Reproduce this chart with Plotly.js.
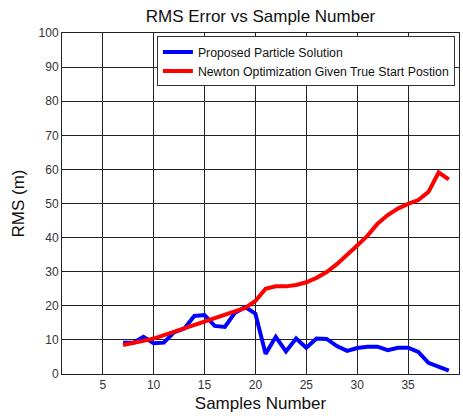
<!DOCTYPE html>
<html>
<head>
<meta charset="utf-8">
<script src="https://cdn.plot.ly/plotly-3.0.1.min.js"></script>
<style>
  html, body { margin: 0; padding: 0; background: #fff; }
  #chart { width: 463px; height: 416px; }
</style>
</head>
<body>
<div id="chart"></div>
<script>
// Sample numbers shared by both series
const samples = [7, 8, 9, 10, 11, 12, 13, 14, 15, 16, 17, 18, 19, 20, 21, 22, 23,
                 24, 25, 26, 27, 28, 29, 30, 31, 32, 33, 34, 35, 36, 37, 38, 39];

// RMS error (m) of the proposed particle solution
const particleRms = [9.2, 9.2, 10.9, 9.0, 9.2, 12.2, 13.3, 17.0, 17.3, 14.1, 13.8, 18.0, 19.6,
                     17.7, 5.9, 10.9, 6.6, 10.4, 7.7, 10.4, 10.3, 8.2, 6.8, 7.6, 8.0, 8.0,
                     7.0, 7.7, 7.7, 6.5, 3.3, 2.0, 1.0];

// RMS error (m) of Newton optimization started from the true position
const newtonRms = [8.5, 9.0, 9.7, 10.4, 11.4, 12.4, 13.2, 14.3, 15.3, 16.2, 17.2, 18.3, 19.4,
                   21.4, 25.0, 25.7, 25.7, 26.1, 26.9, 28.2, 29.9, 32.2, 34.8, 37.7, 40.5,
                   44.1, 46.6, 48.5, 49.9, 51.0, 53.4, 59.1, 57.1];

const seriesNames = ['Proposed Particle Solution', 'Newton Optimization Given True Start Postion'];
const xTicks = [5, 10, 15, 20, 25, 30, 35, 40];
const yTicks = [0, 10, 20, 30, 40, 50, 60, 70, 80, 90, 100];

const font = 'Liberation Sans, Arial, sans-serif';

const traces = [
  {
    x: samples, y: particleRms, name: seriesNames[0],
    type: 'scatter', mode: 'lines',
    line: { color: '#0000ff', width: 4 }
  },
  {
    x: samples, y: newtonRms, name: seriesNames[1],
    type: 'scatter', mode: 'lines',
    line: { color: '#ff0000', width: 4 }
  }
];

const axisCommon = {
  showgrid: true, gridcolor: '#222', gridwidth: 1,
  showline: true, linecolor: '#222', linewidth: 1, mirror: true,
  zeroline: false,
  ticks: 'inside', ticklen: 4, tickcolor: '#222',
  tickfont: { family: font, size: 12, color: '#333' }
};

const layout = {
  width: 463, height: 416,
  margin: { l: 62, r: 4, t: 33, b: 42 },
  paper_bgcolor: '#fff', plot_bgcolor: '#fff',
  showlegend: true,
  title: {
    text: 'RMS Error vs Sample Number',
    font: { family: font, size: 17, color: '#111' },
    x: 0.5, xref: 'paper', y: 0.962, yref: 'container', yanchor: 'middle'
  },
  xaxis: Object.assign({}, axisCommon, {
    range: [1, 40], tickvals: xTicks,
    title: { text: 'Samples Number', font: { family: font, size: 17, color: '#111' }, standoff: 5 }
  }),
  yaxis: Object.assign({}, axisCommon, {
    range: [0, 100], tickvals: yTicks,
    title: { text: 'RMS (m)', font: { family: font, size: 17, color: '#111' }, standoff: 9 }
  }),
  legend: {
    x: 0.239, y: 0.99, xanchor: 'left', yanchor: 'top',
    bgcolor: '#fff', bordercolor: '#333', borderwidth: 1,
    font: { family: font, size: 12.3, color: '#111' },
    tracegroupgap: 0, itemwidth: 30
  }
};

Plotly.newPlot('chart', traces, layout, { displayModeBar: false, staticPlot: true });
</script>
</body>
</html>
